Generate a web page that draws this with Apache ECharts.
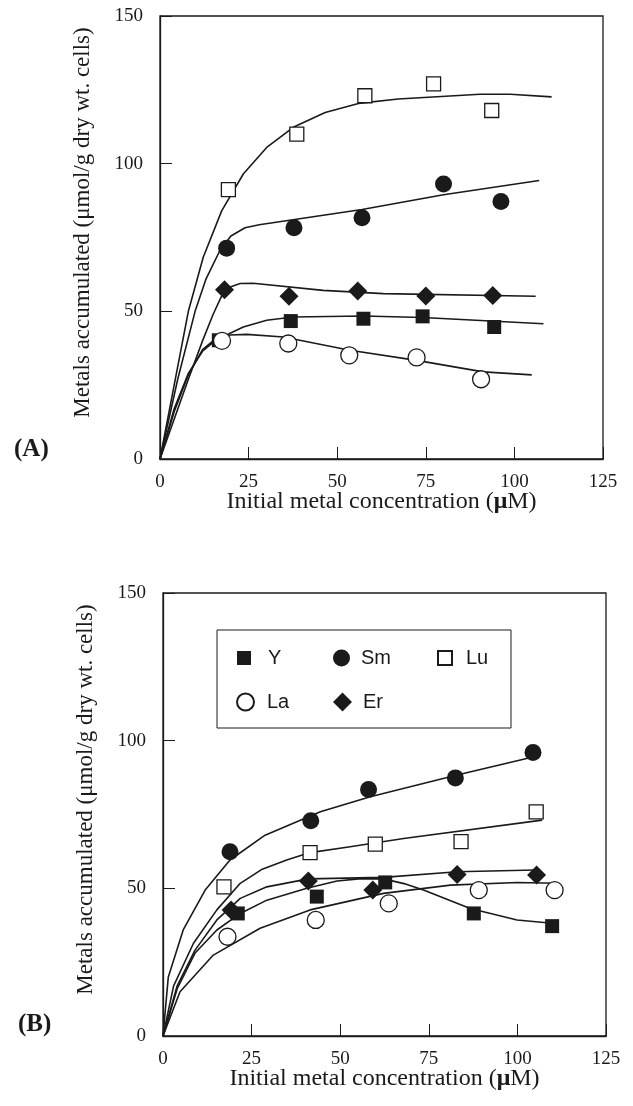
<!DOCTYPE html>
<html lang="en">
<head>
	<meta charset="UTF-8">
	<title>Metals accumulated</title>
	<script src="https://cdn.jsdelivr.net/npm/echarts@6/dist/echarts.min.js"></script>
	<style>
		html, body { margin: 0; padding: 0; background: #fff; }
		#chart { width: 633px; height: 1106px; }
	</style>
</head>
<body>
	<div id="chart"></div>
</body>
<script>
// tick labels
var xTicks = [0, 25, 50, 75, 100, 125];
var yTicks = [0, 50, 100, 150];
var metals = ['Y', 'Sm', 'Lu', 'La', 'Er'];

// panel A: measured points [concentration, accumulated]
var aY  = [[16.6, 40.2], [36.9, 46.7], [57.4, 47.5], [74.1, 48.3], [94.3, 44.7]];
var aSm = [[18.8, 71.4], [37.8, 78.3], [57, 81.7], [80, 93.1], [96.2, 87.2]];
var aLu = [[19.3, 91.2], [38.6, 110], [57.8, 123], [77.2, 127], [93.6, 118]];
var aLa = [[17.5, 40], [36.2, 39.1], [53.4, 35.1], [72.4, 34.4], [90.6, 27.0]];
var aEr = [[18.2, 57.3], [36.4, 55.1], [55.8, 56.9], [75, 55.2], [93.9, 55.4]];
// panel A: fitted curves
var aYFit  = [[0, 0], [4, 17], [8, 29], [12, 36.5], [16, 40.5], [19.8, 42.6], [23.5, 44.7], [30.1, 47], [37.6, 48.1], [57.4, 48.4], [74.1, 47.9], [108.2, 45.8]];
var aSmFit = [[0, 0], [5, 27], [9.9, 50], [13, 61], [16.9, 70.6], [20, 75.5], [24, 78.3], [28, 79.3], [57, 84.5], [80, 89.5], [107, 94.3]];
var aLuFit = [[0, 0], [4, 25], [8, 50], [12.2, 68.3], [17.4, 84], [23.5, 96.5], [30.1, 105.5], [37.6, 112.3], [46.6, 117.3], [56, 120.4], [67.2, 121.9], [90.3, 123.5], [98.8, 123.5], [110.5, 122.6]];
var aLaFit = [[0, 0], [4, 16], [8, 28.5], [12, 37], [16, 41], [19.8, 42], [24.5, 42.2], [34.8, 41.3], [53.6, 36.8], [72.4, 33.4], [91.2, 29.5], [104.9, 28.5]];
var aErFit = [[0, 0], [8, 27], [12, 40], [15, 49], [17.5, 55.5], [20, 58.3], [22.6, 59.4], [26.3, 59.5], [46, 57.1], [63, 56], [106, 55.1]];

// panel B: measured points
var bY  = [[21.1, 41.5], [43.4, 47.2], [62.7, 52], [87.7, 41.5], [109.8, 37.2]];
var bSm = [[18.9, 62.4], [41.7, 72.9], [58, 83.5], [82.5, 87.4], [104.4, 96]];
var bLu = [[17.2, 50.5], [41.5, 62.1], [59.9, 65], [84.1, 65.8], [105.3, 75.9]];
var bLa = [[18.2, 33.6], [43.1, 39.3], [63.7, 44.9], [89.1, 49.4], [110.5, 49.4]];
var bEr = [[19.2, 42.7], [41, 52.5], [59.2, 49.4], [83, 54.7], [105.4, 54.5]];
// panel B: fitted curves
var bYFit  = [[0, 0], [4, 16], [9, 28], [15.2, 35.9], [21.8, 41.5], [29.3, 46], [40.6, 50], [49.1, 52.5], [56, 53.3], [62.2, 53.2], [68, 51.6], [73.5, 49.4], [86.7, 43.2], [99.9, 39.3], [109.8, 38.2]];
var bSmFit = [[0, 0], [1.5, 20], [5.7, 35.9], [11.9, 49.4], [18.9, 59.6], [28.8, 68], [44.4, 75.9], [58.5, 81], [83, 88.4], [104.4, 94.5]];
var bLuFit = [[0, 0], [3, 17], [8.6, 31.4], [15.2, 42.7], [21.8, 51.7], [28, 56.5], [34.9, 59.6], [41.5, 62.1], [52.8, 64.1], [67.9, 66.9], [107, 73.1]];
var bLaFit = [[0, 0], [4.8, 15], [14.2, 27.4], [27.4, 36.5], [41.5, 42.7], [62.2, 48.3], [81.1, 51.1], [99.9, 52], [111.2, 51.7]];
var bErFit = [[0, 0], [4, 17], [9, 29], [15.2, 39.3], [21.8, 46.6], [29.3, 50.5], [41, 53.2], [62.2, 53.7], [83, 55.6], [105.1, 56.2]];

var ink = '#1a1a1a';
var serif = '"Liberation Serif", "Times New Roman", serif';
var sans = '"Liberation Sans", Arial, sans-serif';

var marks = {
    Y:  { symbol: 'rect', size: 14, fill: ink },
    Sm: { symbol: 'circle', size: 17, fill: ink },
    Lu: { symbol: 'rect', size: 14, fill: '#fff' },
    La: { symbol: 'circle', size: 17, fill: '#fff' },
    Er: { symbol: 'diamond', size: 19, fill: ink }
};

var panelA = { Y: [aY, aYFit], Sm: [aSm, aSmFit], Lu: [aLu, aLuFit], La: [aLa, aLaFit], Er: [aEr, aErFit] };
var panelB = { Y: [bY, bYFit], Sm: [bSm, bSmFit], Lu: [bLu, bLuFit], La: [bLa, bLaFit], Er: [bEr, bErFit] };

function xAxis(idx) {
    return {
        type: 'value', gridIndex: idx, min: 0, max: 125, interval: 25,
        name: 'Initial metal concentration ({b|μ}M)',
        nameLocation: 'middle', nameGap: 31, nameMoveOverlap: false,
        nameTextStyle: {
            fontFamily: serif, fontSize: 24, color: ink,
            rich: { b: { fontFamily: serif, fontSize: 24, fontWeight: 'bold', color: ink } }
        },
        axisLine: { lineStyle: { color: ink, width: 1.3 } },
        axisTick: { inside: true, length: 12, lineStyle: { color: ink, width: 1 } },
        axisLabel: { fontFamily: serif, fontSize: 19, color: ink, margin: 14 },
        splitLine: { show: false }
    };
}

function yAxis(idx) {
    return {
        type: 'value', gridIndex: idx, min: 0, max: 150, interval: 50,
        name: 'Metals accumulated (μmol/g dry wt. cells)',
        nameLocation: 'middle', nameGap: 66,
        nameTextStyle: { fontFamily: serif, fontSize: 23, color: ink, padding: [0, 0, 0, 30] },
        axisLine: { lineStyle: { color: ink, width: 1.3 } },
        axisTick: { inside: true, length: 12, lineStyle: { color: ink, width: 1 } },
        axisLabel: { fontFamily: serif, fontSize: 19, color: ink, margin: 17 },
        splitLine: { show: false }
    };
}

var series = [];
[panelA, panelB].forEach(function (panel, idx) {
    metals.forEach(function (m) {
        series.push({
            name: m + ' fit', type: 'line', xAxisIndex: idx, yAxisIndex: idx,
            data: panel[m][1], smooth: false,
            showSymbol: false, symbol: 'none', z: 2,
            lineStyle: { color: ink, width: 1.6, join: 'round' }
        });
    });
    metals.forEach(function (m) {
        series.push({
            name: m, type: 'scatter', xAxisIndex: idx, yAxisIndex: idx,
            data: panel[m][0], symbol: marks[m].symbol, symbolSize: marks[m].size, z: 3,
            itemStyle: { color: marks[m].fill, borderColor: ink, borderWidth: marks[m].fill === ink ? 0 : 1.3, opacity: 1 }
        });
    });
});

// legend entries in panel B: [name, left, top, text padding]
var legendPos = [
    ['Y', 237, 648, 12],
    ['Sm', 333, 648, 6],
    ['Lu', 437, 648, 9],
    ['La', 236, 692, 8],
    ['Er', 333, 692, 6]
];
var legends = legendPos.map(function (p) {
    var sz = marks[p[0]].size;
    return {
        data: [p[0]], left: p[1], top: p[2], padding: 0,
        itemWidth: sz, itemHeight: sz, selectedMode: false,
        textStyle: { fontFamily: sans, fontSize: 20, color: ink, padding: [0, 0, 0, p[3]] }
    };
});

var myChart = echarts.init(document.getElementById('chart'));
var option = {
    backgroundColor: '#fff',
    animation: false,
    grid: [
        { left: 160, top: 16, width: 443, height: 443, show: true, borderColor: ink, borderWidth: 1.3 },
        { left: 163, top: 593, width: 443, height: 443, show: true, borderColor: ink, borderWidth: 1.3 }
    ],
    xAxis: [xAxis(0), xAxis(1)],
    yAxis: [yAxis(0), yAxis(1)],
    legend: legends,
    graphic: [
        { type: 'rect', shape: { x: 217, y: 630, width: 294, height: 98 },
          style: { fill: '#fff', stroke: ink, lineWidth: 1 }, z: 1 },
        { type: 'text', left: 14, top: 437, style: { text: '(A)', fontFamily: serif, fontSize: 25, fontWeight: 'bold', fill: ink } },
        { type: 'text', left: 18, top: 1012, style: { text: '(B)', fontFamily: serif, fontSize: 25, fontWeight: 'bold', fill: ink } }
    ],
    series: series
};
myChart.setOption(option);
</script>
</html>
